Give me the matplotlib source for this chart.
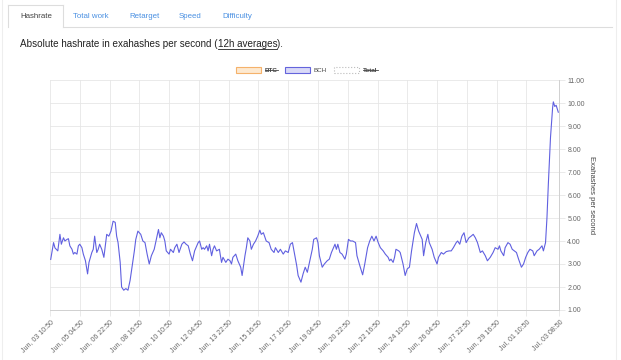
import numpy as np
import matplotlib
matplotlib.use("Agg")
import matplotlib.pyplot as plt
from matplotlib.patches import Rectangle

plt.rcParams['font.family'] = ['Liberation Sans', 'DejaVu Sans']

# hours since Jun 03 10:50, BCH hashrate (EH/s, 12h averages)
hours = [1, 5, 7, 11, 14, 16, 19, 21, 24, 26, 28, 31, 33, 35, 38, 40, 42, 45, 47, 50,
         53, 55, 59, 61, 63, 66, 68, 70, 73, 76, 80, 83, 86, 89, 92, 94, 96, 99, 101, 104,
         107, 110, 113, 116, 119, 121, 124, 128, 131, 134, 137, 140, 143, 147, 150, 153, 155, 157, 160, 162,
         164, 168, 170, 174, 176, 179, 182, 186, 189, 192, 195, 198, 201, 204, 207, 209, 211, 214, 216, 218,
         221, 223, 225, 228, 230, 232, 235, 239, 240, 242, 244, 248, 251, 254, 256, 258, 262, 265, 269, 271,
         275, 277, 279, 282, 284, 287, 290, 293, 296, 298, 301, 305, 309, 312, 316, 318, 322, 325, 329, 332,
         336, 339, 342, 345, 348, 350, 354, 357, 360, 363, 366, 370, 372, 376, 378, 380, 384, 387, 391, 394,
         397, 399, 402, 404, 406, 409, 412, 416, 418, 421, 424, 427, 431, 433, 437, 441, 444, 448, 451, 454,
         457, 460, 463, 466, 470, 473, 477, 479, 481, 484, 486, 488, 492, 494, 498, 501, 504, 507, 510, 514,
         517, 520, 525, 527, 530, 533, 535, 539, 542, 546, 548, 552, 555, 559, 563, 566, 569, 573, 575, 578,
         581, 584, 587, 591, 594, 597, 600, 603, 607, 610, 614, 617, 621, 625, 628, 632, 634, 636, 640, 642,
         646, 649, 652, 655, 658, 661, 665, 668, 671, 674, 677, 681, 683, 687, 690, 694, 696, 699, 701, 703,
         706, 709, 710, 712, 714, 717]
bch = [3.20, 3.93, 3.70, 3.57, 4.29, 3.86, 4.14, 4.00, 4.07, 4.10, 3.79, 3.64, 3.43, 3.50, 3.43, 3.79, 3.86, 3.71, 3.43, 3.14,
       2.57, 3.07, 3.50, 3.64, 4.21, 3.50, 3.64, 3.86, 3.64, 3.29, 4.29, 4.21, 4.43, 4.86, 4.81, 4.21, 3.93, 3.07, 2.00, 1.86,
       1.93, 1.86, 2.29, 2.93, 3.57, 4.07, 4.43, 4.29, 4.00, 3.93, 3.43, 3.00, 3.36, 3.64, 4.07, 4.50, 4.14, 4.36, 4.21, 4.00,
       3.57, 3.43, 3.64, 3.50, 3.71, 3.86, 3.50, 3.86, 3.96, 3.86, 3.79, 3.43, 3.14, 3.57, 3.79, 3.93, 4.00, 3.64, 3.71, 3.64,
       3.79, 3.57, 3.86, 3.36, 3.64, 3.79, 3.57, 3.64, 3.43, 3.07, 3.29, 3.07, 3.21, 3.14, 3.00, 3.29, 3.43, 3.14, 2.86, 2.50,
       3.36, 3.71, 4.14, 4.00, 3.64, 3.86, 4.00, 4.21, 4.47, 4.29, 4.36, 4.00, 3.93, 3.64, 3.50, 3.71, 3.50, 3.64, 3.43, 3.57,
       3.50, 3.86, 3.93, 3.43, 2.93, 2.50, 2.21, 2.57, 2.86, 2.64, 3.07, 3.64, 4.07, 4.14, 3.93, 3.36, 2.86, 3.00, 3.14, 3.21,
       3.50, 3.64, 3.86, 3.64, 3.86, 3.50, 3.43, 3.21, 3.43, 4.07, 4.00, 4.00, 3.93, 3.36, 2.93, 2.53, 3.00, 3.71, 4.00, 4.21,
       4.00, 4.21, 3.93, 3.71, 3.57, 3.43, 3.29, 3.14, 3.21, 3.07, 3.29, 3.64, 3.57, 3.50, 3.00, 2.50, 2.79, 2.86, 3.57, 4.36,
       4.76, 4.43, 4.07, 3.36, 3.93, 4.29, 3.93, 3.64, 3.29, 3.00, 3.29, 3.50, 3.43, 3.54, 3.57, 3.57, 3.71, 3.93, 4.00, 3.86,
       4.21, 4.36, 3.93, 4.14, 4.21, 4.29, 4.14, 3.93, 3.50, 3.57, 3.36, 3.14, 3.29, 3.50, 3.71, 3.64, 3.79, 3.57, 3.36, 3.71,
       3.93, 3.86, 3.64, 3.57, 3.50, 3.21, 2.86, 3.00, 3.29, 3.50, 3.64, 3.57, 3.36, 3.57, 3.64, 3.79, 3.57, 3.93, 5.00, 6.50,
       8.50, 9.80, 10.05, 9.85, 9.90, 9.60]

tick_hours = [0, 42, 84, 126, 168, 210, 252, 294, 336, 378, 420, 462, 504, 546, 588, 630, 672, 718]
tick_labels = ["Jun, 03 10:50", "Jun, 05 04:50", "Jun, 06 22:50", "Jun, 08 16:50", "Jun, 10 10:50",
               "Jun, 12 04:50", "Jun, 13 22:50", "Jun, 15 16:50", "Jun, 17 10:50", "Jun, 19 04:50",
               "Jun, 20 22:50", "Jun, 22 16:50", "Jun, 24 10:50", "Jun, 26 04:50", "Jun, 27 22:50",
               "Jun, 29 16:50", "Jul, 01 10:50", "Jul, 03 08:50"]
y_ticks = [1, 2, 3, 4, 5, 6, 7, 8, 9, 10, 11]

W, H = 621, 360
fig = plt.figure(figsize=(6.21, 3.6), dpi=100)
fig.patch.set_facecolor("white")

ax = fig.add_axes([50 / W, 1 - 310 / H, (559 - 50) / W, (310 - 80) / H])
ax.plot(hours, bch, color="#6060e0", lw=0.8)
ax.set_xlim(0, 718)
ax.set_ylim(1, 11)
ax.set_xticks(tick_hours)
ax.set_xticklabels(tick_labels, rotation=45, ha="right", va="top",
                   rotation_mode="anchor", fontsize=5, color="#666666")
ax.set_yticks(y_ticks)
ax.set_yticklabels(["%.2f" % v for v in y_ticks], fontsize=5, color="#666666")
ax.yaxis.tick_right()
ax.yaxis.set_label_position("right")
ax.set_ylabel("Exahashes per second", fontsize=5.5, color="#444444", rotation=-90, labelpad=7)
ax.grid(True, color="#e6e6e6", lw=0.6)
ax.set_axisbelow(True)
ax.tick_params(axis="both", length=4, width=0.6, color="#e6e6e6", pad=2)
for s in ["top", "left"]:
    ax.spines[s].set_visible(False)
for s in ["bottom", "right"]:
    ax.spines[s].set_color("#d0d0d0")
    ax.spines[s].set_linewidth(0.7)

# page frame and tabs
def px_line(x0, y0, x1, y1, color="#dddddd", lw=0.8, ls="-"):
    fig.add_artist(plt.Line2D([x0 / W, x1 / W], [1 - y0 / H, 1 - y1 / H],
                              color=color, lw=lw, ls=ls, transform=fig.transFigure))

px_line(2, 0, 2, 360, color="#eeeeee")
px_line(616, 0, 616, 360, color="#eeeeee")
px_line(8, 5, 8, 27)
px_line(8, 5, 63, 5)
px_line(63, 5, 63, 27)
px_line(63, 27, 612, 27)

fig.text(20 / W, 1 - 16 / H, "Hashrate", fontsize=5.7, color="#444444", va="center")
for lbl, x in [("Total work", 73), ("Retarget", 129), ("Speed", 179), ("Difficulty", 222)]:
    fig.text(x / W, 1 - 16 / H, lbl, fontsize=5.7, color="#4a90e2", va="center")

# description line with underlined link text
fig.canvas.draw()
r = fig.canvas.get_renderer()
x = 20 / W
yb = 1 - 44 / H
parts = [("Absolute hashrate in exahashes per second (", False), ("12h averages", True), (").", False)]
for txt, und in parts:
    t = fig.text(x, yb, txt, fontsize=7.1, color="#222222", va="center")
    bb = t.get_window_extent(r)
    if und:
        fig.add_artist(plt.Line2D([bb.x0 / W, bb.x1 / W], [1 - 49 / H, 1 - 49 / H],
                                  color="#222222", lw=0.6, transform=fig.transFigure))
    x = bb.x1 / W

# legend
legend_items = [("BTC", 236, "#fde9d0", "#f5b26b", "-", True),
                ("BCH", 285, "#d9d9f7", "#6464dc", "-", False),
                ("Total", 334, "#ffffff", "#bbbbbb", ":", True)]
for lbl, bx, fc, ec, ls, hidden in legend_items:
    fig.add_artist(Rectangle((bx / W, 1 - 73 / H), 25 / W, 6 / H, facecolor=fc,
                             edgecolor=ec, lw=0.8, ls=ls, transform=fig.transFigure))
    t = fig.text((bx + 29) / W, 1 - 70 / H, lbl, fontsize=4.5, va="center",
                 color="#444444", fontweight="bold" if hidden else "normal")
    if hidden:
        bb = t.get_window_extent(r)
        fig.add_artist(plt.Line2D([bb.x0 / W, bb.x1 / W], [1 - 70 / H, 1 - 70 / H],
                                  color="#444444", lw=0.6, transform=fig.transFigure))

fig.savefig("out.png", dpi=100)
